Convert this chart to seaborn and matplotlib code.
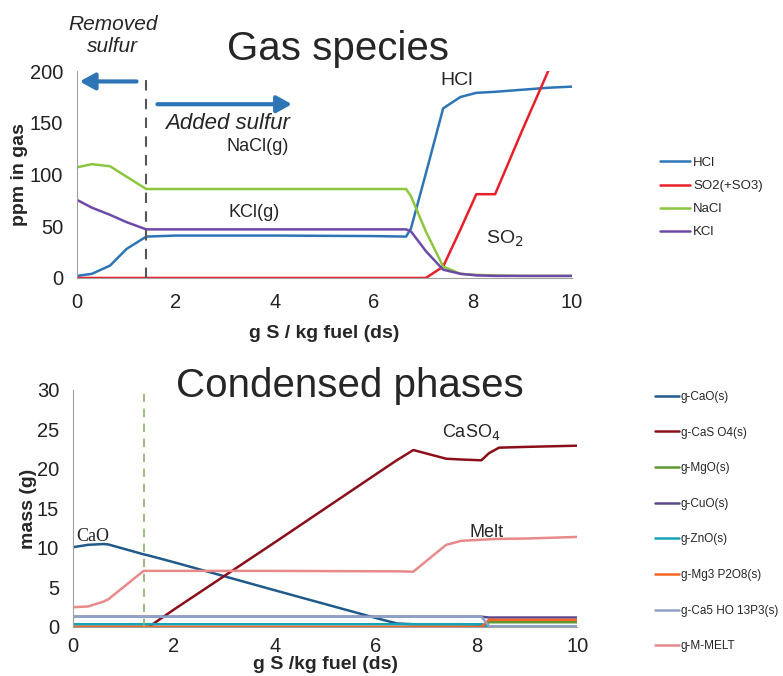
import matplotlib
matplotlib.use("Agg")
import matplotlib.pyplot as plt
import numpy as np
import pandas as pd
import seaborn as sns

# gas phase (ppm) vs g S / kg fuel
gas_x = [0, 0.3, 0.67, 1.0, 1.4, 2.0, 4.0, 6.0, 6.65, 6.75, 7.05, 7.4, 7.75, 8.07, 8.45, 9.0, 9.55, 10.0]
hcl = [2, 4, 12, 28, 40, 41, 41, 40.5, 40, 48, 101, 164, 175, 179, 180, 182, 184, 185]
so2 = [0, 0, 0, 0, 0, 0, 0, 0, 0, 0, 0, 11, 47, 81, 81, 143, 203, 250]
nacl = [107, 110, 108, 98, 86, 86, 86, 86, 86, 79, 45, 11, 4, 3, 2.5, 2, 2, 2]
kcl = [75.5, 68, 61, 54, 47, 47, 47, 47, 47, 45, 26, 8, 4, 2.5, 2, 2, 2, 2]
gas_labels = ["HCl", "SO2(+SO3)", "NaCl", "KCl"]

# condensed phases (g)
cond_x = [0, 0.3, 0.6, 0.7, 1.4, 1.5, 2, 4, 6, 6.42, 6.75, 7.4, 7.7, 8.1, 8.25, 8.45, 9, 10]
cao = [10.1, 10.4, 10.5, 10.45, 9.2, 9.05, 8.2, 4.65, 1.15, 0.45, 0.35, 0.35, 0.35, 0.3, 0, 0, 0, 0]
caso4 = [0, 0, 0, 0, 0, 0, 2.2, 10.7, 19.3, 21.1, 22.4, 21.3, 21.2, 21.1, 22.0, 22.7, 22.8, 22.95]
mgo = [0] * 14 + [0.6, 0.6, 0.6, 0.6]
cuo = [1.3] * 14 + [1.2, 1.2, 1.2, 1.2]
zno = [0.35] * 14 + [0.05, 0.05, 0.05, 0.05]
mg3p2o8 = [0] * 14 + [0.9, 0.9, 0.9, 0.9]
ca5ho13p3 = [1.3] * 14 + [0.1, 0.1, 0.1, 0.1]
melt = [2.5, 2.6, 3.2, 3.5, 7.1, 7.1, 7.1, 7.1, 7.05, 7.05, 7.0, 10.4, 10.9, 11.05, 11.1, 11.15, 11.2, 11.4]
cond_labels = ["g-CaO(s)", "g-CaS O4(s)", "g-MgO(s)", "g-CuO(s)", "g-ZnO(s)",
               "g-Mg3 P2O8(s)", "g-Ca5 HO 13P3(s)", "g-M-MELT"]

sulfur_ref = 1.4

sns.set_style("white")
plt.rcParams['font.family'] = ['Liberation Sans', 'DejaVu Sans']

fig = plt.figure(figsize=(7.83, 6.76), dpi=100)
ax1 = fig.add_axes([0.0983, 0.5888, 0.632, 0.306])
ax2 = fig.add_axes([0.0932, 0.0725, 0.644, 0.3506])

gas_colors = ["#2e75b6", "#e8202a", "#8cc63f", "#6e4aa8"]
for vals, lab, col in zip([hcl, so2, nacl, kcl], gas_labels, gas_colors):
    sns.lineplot(x=gas_x, y=vals, ax=ax1, color=col, label=lab, lw=1.8)

cond_colors = ["#1f5a8a", "#8b0f1a", "#5b9a2f", "#5c4a8c", "#17a2b8",
               "#f26522", "#8ea2c8", "#e8898a"]
cond_series = [cao, caso4, mgo, cuo, zno, mg3p2o8, ca5ho13p3, melt]
for vals, lab, col in zip(cond_series, cond_labels, cond_colors):
    sns.lineplot(x=cond_x, y=vals, ax=ax2, color=col, label=lab, lw=1.8)

ax1.axvline(sulfur_ref, ymin=0, ymax=0.99, color="#555555", ls=(0, (5, 4)), lw=1.5)
ax2.axvline(sulfur_ref, color="#8cb368", ls=(0, (5, 4)), lw=1.2)

for ax in (ax1, ax2):
    ax.set_xlim(0, 10)
    ax.set_xticks([0, 2, 4, 6, 8, 10])
    sns.despine(ax=ax)
    for s in ("left", "bottom"):
        ax.spines[s].set_color("#a0a0a0")
    ax.tick_params(axis="both", labelsize=14.5, colors="#222222", length=3, color="#a0a0a0")
    ax.tick_params(axis="y", pad=7)
ax1.tick_params(axis="x", pad=8)
ax2.tick_params(axis="x", pad=4)

ax1.set_ylim(0, 200)
ax1.set_yticks([0, 50, 100, 150, 200])
ax2.set_ylim(0, 30)
ax2.set_yticks([0, 5, 10, 15, 20, 25, 30])

ax1.set_xlabel("g S / kg fuel (ds)", fontsize=14, fontweight="bold", labelpad=9)
ax1.set_ylabel("ppm in gas", fontsize=14, fontweight="bold", labelpad=1)
ax2.set_xlabel("g S /kg fuel (ds)", fontsize=14, fontweight="bold", labelpad=0)
ax2.set_ylabel("mass (g)", fontsize=14, fontweight="bold", labelpad=0)

fig.text(0.432, 0.911, "Gas species", fontsize=29, ha="center", va="baseline")
fig.text(0.447, 0.4127, "Condensed phases", fontsize=29, ha="center", va="baseline")

# annotations in the gas panel
fig.text(0.144, 0.948, "Removed\nsulfur", fontsize=15, style="italic", ha="center", va="center",
         linespacing=1.2)
ax1.text(3.05, 149, "Added sulfur", fontsize=16, style="italic", ha="center", va="center")
ax1.annotate("", xy=(0, 190), xytext=(1.26, 190),
             arrowprops=dict(arrowstyle="-|>,head_length=0.9,head_width=0.5", lw=3, color="#2e75b6"))
ax1.annotate("", xy=(4.4, 168), xytext=(1.57, 168),
             arrowprops=dict(arrowstyle="-|>,head_length=0.9,head_width=0.5", lw=3, color="#2e75b6"))
ax1.text(7.68, 191, "HCl", fontsize=14, ha="center", va="center")
ax1.text(8.65, 38, "SO$_2$", fontsize=14, ha="center", va="center")
ax1.text(3.66, 127, "NaCl(g)", fontsize=13, ha="center", va="center")
ax1.text(3.58, 63, "KCl(g)", fontsize=13, ha="center", va="center")

ax2.text(0.4, 11.4, "CaO", fontsize=13, ha="center", va="center", family="Liberation Serif")
ax2.text(7.9, 24.7, "CaSO$_4$", fontsize=13, ha="center", va="center")
ax2.text(8.2, 12.0, "Melt", fontsize=13, ha="center", va="center")

ax1.legend(loc="upper left", bbox_to_anchor=(0.843, 0.768), bbox_transform=fig.transFigure,
           frameon=False, fontsize=9.5, handlelength=2.3, handletextpad=0.2, labelspacing=0.82,
           borderpad=0, borderaxespad=0)
ax2.legend(loc="upper left", bbox_to_anchor=(0.8365, 0.4216), bbox_transform=fig.transFigure,
           frameon=False, fontsize=8.5, handlelength=2.0, handletextpad=0.2, labelspacing=2.0,
           borderpad=0, borderaxespad=0)

fig.savefig("out.png", dpi=100)
